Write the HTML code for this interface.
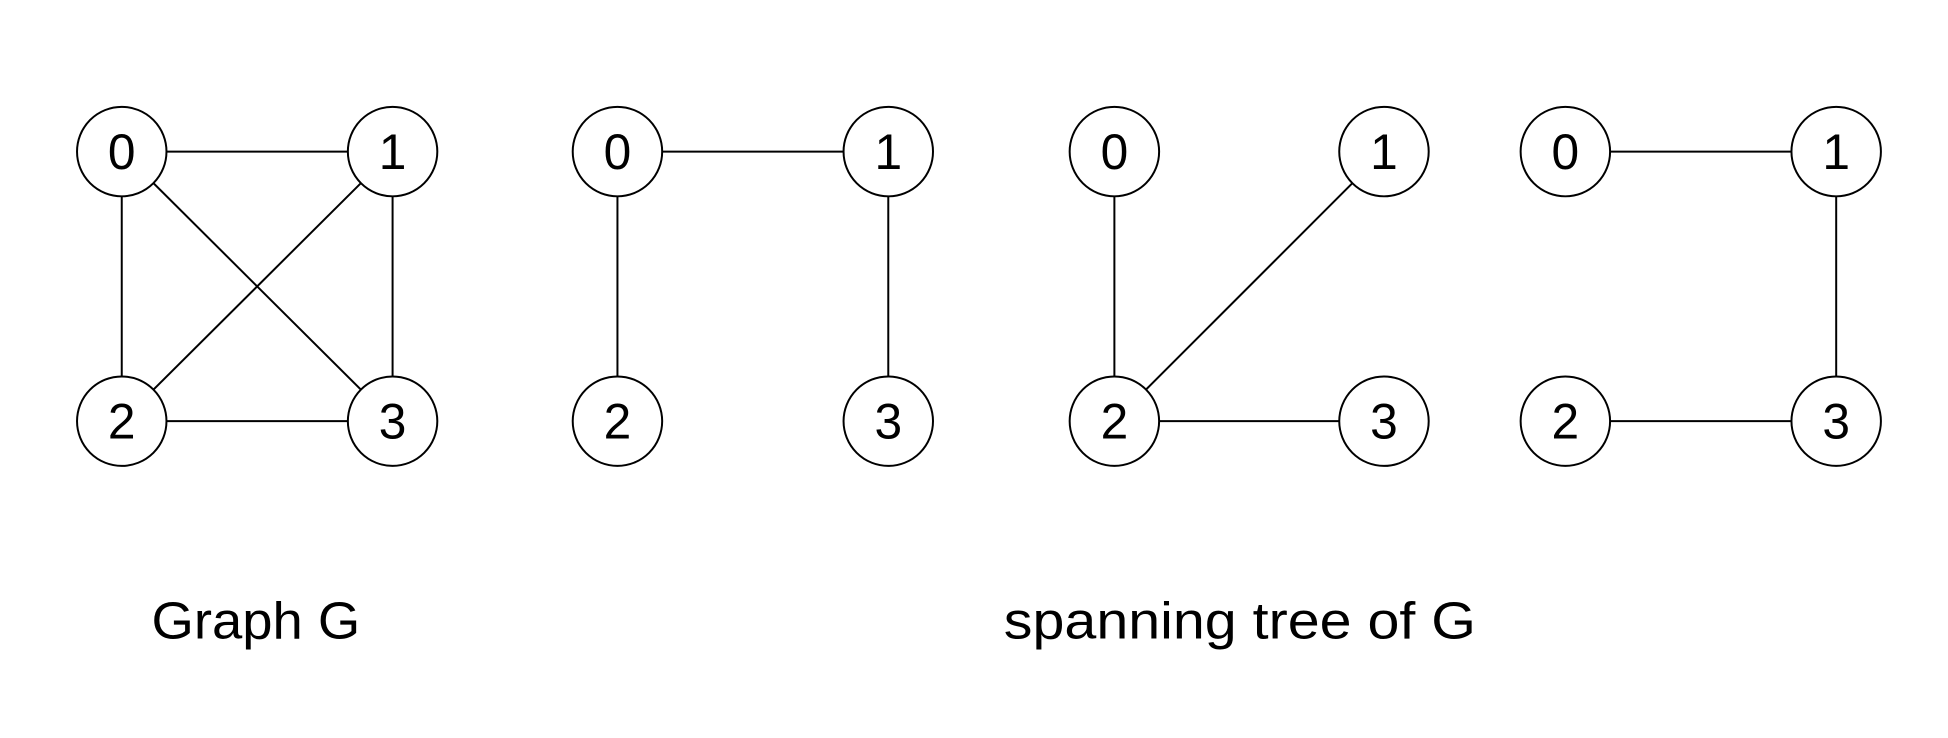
<!DOCTYPE html>
<html><head><meta charset="utf-8"><style>html,body{margin:0;padding:0;background:#fff}svg{display:block}</style></head>
<body>
<svg width="1948" height="738" viewBox="0 0 1568 594" xmlns="http://www.w3.org/2000/svg">
<g stroke="#000" stroke-width="1.6" fill="none">
<!-- Graph G -->
<line x1="98" y1="122" x2="316" y2="122"/>
<line x1="98" y1="122" x2="98" y2="339"/>
<line x1="316" y1="122" x2="316" y2="339"/>
<line x1="98" y1="339" x2="316" y2="339"/>
<line x1="98" y1="122" x2="316" y2="339"/>
<line x1="316" y1="122" x2="98" y2="339"/>
<!-- tree 1 -->
<line x1="497" y1="122" x2="715" y2="122"/>
<line x1="497" y1="122" x2="497" y2="339"/>
<line x1="715" y1="122" x2="715" y2="339"/>
<!-- tree 2 -->
<line x1="897" y1="122" x2="897" y2="339"/>
<line x1="1114" y1="122" x2="897" y2="339"/>
<line x1="897" y1="339" x2="1114" y2="339"/>
<!-- tree 3 -->
<line x1="1260" y1="122" x2="1478" y2="122"/>
<line x1="1478" y1="122" x2="1478" y2="339"/>
<line x1="1260" y1="339" x2="1478" y2="339"/>
</g>
<g stroke="#000" stroke-width="1.6" fill="#fff">
<circle cx="98" cy="122" r="36"/><circle cx="316" cy="122" r="36"/><circle cx="98" cy="339" r="36"/><circle cx="316" cy="339" r="36"/>
<circle cx="497" cy="122" r="36"/><circle cx="715" cy="122" r="36"/><circle cx="497" cy="339" r="36"/><circle cx="715" cy="339" r="36"/>
<circle cx="897" cy="122" r="36"/><circle cx="1114" cy="122" r="36"/><circle cx="897" cy="339" r="36"/><circle cx="1114" cy="339" r="36"/>
<circle cx="1260" cy="122" r="36"/><circle cx="1478" cy="122" r="36"/><circle cx="1260" cy="339" r="36"/><circle cx="1478" cy="339" r="36"/>
</g>
<g font-family="Liberation Sans, sans-serif" font-size="40" text-anchor="middle" fill="#000">
<text x="98" y="136">0</text><text x="316" y="136">1</text><text x="98" y="353">2</text><text x="316" y="353">3</text>
<text x="497" y="136">0</text><text x="715" y="136">1</text><text x="497" y="353">2</text><text x="715" y="353">3</text>
<text x="897" y="136">0</text><text x="1114" y="136">1</text><text x="897" y="353">2</text><text x="1114" y="353">3</text>
<text x="1260" y="136">0</text><text x="1478" y="136">1</text><text x="1260" y="353">2</text><text x="1478" y="353">3</text>
</g>
<g font-family="Liberation Sans, sans-serif" font-size="42" fill="#000">
<text x="122" y="514" textLength="168" lengthAdjust="spacingAndGlyphs">Graph G</text>
<text x="808" y="514" textLength="380" lengthAdjust="spacingAndGlyphs">spanning tree of G</text>
</g>
</svg>
</body></html>
